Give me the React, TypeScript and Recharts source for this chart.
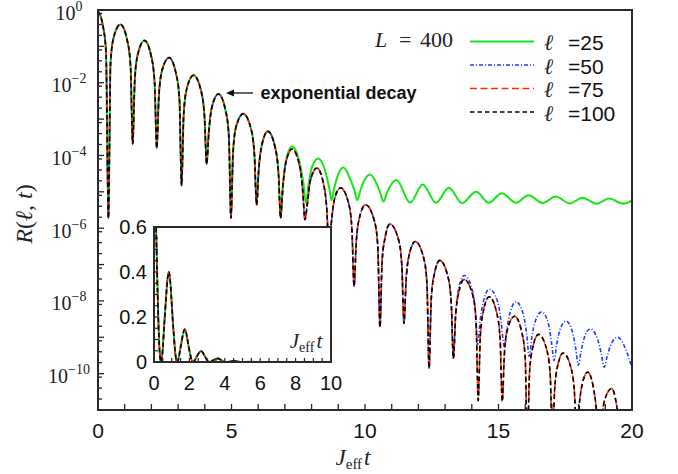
import { LineChart, Line, XAxis, YAxis } from 'recharts';

// R(l, t) as [J_eff t, R]; all four sizes coincide up to t ~ 6.8
const sharedDecay: [number, number][] = [
    [0, 0.93], [0.1, 0.66], [0.2, 0.32], [0.3, 0.071], [0.39, 1.9e-6],
    [0.47, 3.5e-2], [0.59, 0.18], [0.84, 0.40], [1.10, 0.14], [1.22, 0.028], [1.30, 2.1e-4],
    [1.38, 1.3e-2], [1.50, 6.5e-2], [1.74, 0.145], [2.00, 5.1e-2], [2.12, 1.0e-2], [2.20, 1.6e-4],
    [2.28, 4.4e-3], [2.40, 2.2e-2], [2.66, 4.9e-2], [2.93, 1.7e-2], [3.05, 3.5e-3], [3.13, 1.5e-5],
    [3.21, 1.4e-3], [3.33, 7.1e-3], [3.58, 1.6e-2], [3.87, 5.6e-3], [3.99, 1.1e-3], [4.07, 5.8e-5],
    [4.15, 4.4e-4], [4.27, 2.2e-3], [4.51, 4.9e-3], [4.78, 1.7e-3], [4.90, 3.5e-4], [4.98, 1.9e-6],
    [5.06, 1.3e-4], [5.18, 6.5e-4], [5.44, 1.4e-3], [5.74, 5.1e-4], [5.86, 1.0e-4], [5.94, 4.4e-6],
    [6.02, 4.1e-5], [6.14, 2.0e-4], [6.36, 4.6e-4], [6.64, 1.6e-4], [6.76, 3.2e-5], [6.84, 1.9e-6],
];

// l = 50, 75, 100 keep decaying together until t ~ 13.3
const decayTail: [number, number][] = [
    [6.92, 1.3e-5], [7.04, 6.6e-5], [7.27, 1.5e-4], [7.55, 5.2e-5], [7.67, 1.0e-5], [7.75, 1.7e-6],
    [7.83, 4.0e-6], [7.95, 2.0e-5], [8.20, 4.5e-5], [8.45, 1.6e-5], [8.57, 3.2e-6], [8.65, 2.5e-7],
    [8.73, 1.2e-6], [8.85, 5.9e-6], [9.08, 1.3e-5], [9.39, 4.7e-6], [9.51, 9.3e-7], [9.59, 2.5e-8],
    [9.67, 3.9e-7], [9.79, 1.9e-6], [10.02, 4.4e-6], [10.36, 1.5e-6], [10.48, 3.1e-7], [10.56, 1.9e-9],
    [10.64, 1.2e-7], [10.76, 5.9e-7], [10.93, 1.3e-6], [11.26, 4.7e-7], [11.38, 9.3e-8], [11.46, 2.4e-9],
    [11.54, 3.8e-8], [11.66, 1.9e-7], [11.88, 4.3e-7], [12.20, 1.5e-7], [12.32, 3.0e-8], [12.40, 1.4e-10],
    [12.48, 1.1e-8], [12.60, 5.6e-8], [12.80, 1.3e-7], [13.11, 4.5e-8], [13.23, 8.9e-9], [13.31, 2.6e-10],
];

// l = 75 and l = 100 overlap to the end
const lateTail: [number, number][] = [
    [13.39, 3.5e-9], [13.51, 1.7e-8], [13.71, 3.9e-8], [14.04, 1.4e-8], [14.16, 2.8e-9], [14.24, 1.8e-11],
    [14.32, 1.1e-9], [14.44, 5.6e-9], [14.65, 1.3e-8], [14.94, 4.5e-9], [15.06, 8.9e-10], [15.14, 1.7e-11],
    [15.22, 3.4e-10], [15.34, 1.7e-9], [15.60, 3.8e-9], [15.88, 1.3e-9], [16.00, 2.7e-10], [16.08, 1e-12],
    [16.16, 1.0e-10], [16.28, 5.2e-10], [16.50, 1.2e-9], [16.82, 4.2e-10], [16.94, 8.3e-11], [17.02, 1e-12],
    [17.10, 3.3e-11], [17.22, 1.7e-10], [17.42, 3.7e-10], [17.73, 1.3e-10], [17.85, 2.6e-11], [17.93, 1e-12],
    [18.01, 9.8e-12], [18.13, 4.9e-11], [18.34, 1.1e-10], [18.56, 3.9e-11], [18.68, 7.8e-12], [18.76, 1e-12],
    [18.84, 3.5e-12], [18.96, 1.7e-11], [19.24, 3.9e-11], [19.42, 1.4e-11], [19.54, 2.8e-12], [19.62, 3e-13],
    [20, 4e-12],
];

const blueTail: [number, number][] = [
    [13.39, 4.0e-9], [13.51, 2.2e-8], [13.72, 5.0e-8], [14.02, 2.0e-8], [14.12, 6.3e-9], [14.22, 6.3e-10],
    [14.32, 3.2e-9], [14.44, 1.0e-8], [14.66, 2.1e-8], [14.98, 8.9e-9], [15.10, 2.5e-9], [15.22, 5.4e-10],
    [15.32, 1.8e-9], [15.44, 5.0e-9], [15.66, 9.5e-9], [15.93, 4.2e-9], [16.05, 1.3e-9], [16.15, 3.0e-10],
    [16.25, 1.0e-9], [16.38, 2.8e-9], [16.62, 5.0e-9], [16.86, 2.5e-9], [16.98, 7.9e-10], [17.08, 2.3e-10],
    [17.18, 6.3e-10], [17.30, 1.6e-9], [17.53, 2.8e-9], [17.77, 1.4e-9], [17.89, 5.0e-10], [17.99, 1.7e-10],
    [18.09, 4.0e-10], [18.21, 9.5e-10], [18.43, 1.7e-9], [18.72, 8.5e-10], [18.85, 3.5e-10], [18.96, 1.5e-10],
    [19.06, 2.8e-10], [19.20, 6.0e-10], [19.46, 1.0e-9], [19.75, 5.0e-10], [20, 1.4e-10],
];

// l = 25 saturates around 5e-6
const greenTail: [number, number][] = [
    [6.92, 1.3e-5], [7.04, 7.1e-5], [7.27, 1.8e-4], [7.52, 7.9e-5], [7.68, 2.0e-5], [7.79, 5.0e-6],
    [7.90, 1.8e-5], [8.02, 5.0e-5], [8.25, 8.3e-5], [8.50, 4.0e-5], [8.65, 1.4e-5], [8.75, 5.9e-6],
    [8.86, 1.4e-5], [8.98, 2.8e-5], [9.19, 4.7e-5], [9.45, 2.2e-5], [9.60, 1.1e-5], [9.71, 5.9e-6],
    [9.83, 1.1e-5], [9.95, 1.9e-5], [10.19, 3.0e-5], [10.45, 1.6e-5], [10.58, 8.9e-6], [10.69, 5.4e-6],
    [10.81, 8.9e-6], [10.94, 1.4e-5], [11.18, 2.1e-5], [11.69, 5.0e-6], [12.16, 1.6e-5], [12.66, 5.0e-6],
    [13.14, 1.3e-5], [13.64, 4.9e-6], [14.16, 1.0e-5], [14.64, 5.0e-6], [15.12, 9.1e-6], [15.66, 5.0e-6],
    [16.12, 8.1e-6], [16.66, 4.9e-6], [17.14, 7.4e-6], [17.68, 4.8e-6], [18.14, 6.9e-6], [18.68, 4.7e-6],
    [19.14, 6.5e-6], [19.67, 4.7e-6], [20, 5.8e-6],
];

const xTicks = [0, 1, 2, 3, 4, 5, 6, 7, 8, 9, 10, 11, 12, 13, 14, 15, 16, 17, 18, 19, 20];
const xTickLabels = [0, 5, 10, 15, 20];
const yDecades = [1, 1e-1, 1e-2, 1e-3, 1e-4, 1e-5, 1e-6, 1e-7, 1e-8, 1e-9, 1e-10, 1e-11];
const yMinorFactors = [2, 4, 8];
const yLabelExponents = [0, -2, -4, -6, -8, -10];

const insetXTicks = [0, 0.5, 1, 1.5, 2, 2.5, 3, 3.5, 4, 4.5, 5, 5.5, 6, 6.5, 7, 7.5, 8, 8.5, 9, 9.5, 10];
const insetXLabels = [0, 2, 4, 6, 8, 10];
const insetYTicks = [0, 0.05, 0.1, 0.15, 0.2, 0.25, 0.3, 0.35, 0.4, 0.45, 0.5, 0.55, 0.6];
const insetYLabels = [0, 0.2, 0.4, 0.6];

const toRows = (pts: [number, number][]) => pts.map(([t, r]) => ({ t, r }));

const series = [
    { name: '25', color: '#14e614', dash: undefined, width: 2, data: toRows([...sharedDecay, ...greenTail]) },
    { name: '50', color: '#1a3cff', dash: '4 2 1 2', width: 1.6, data: toRows([...sharedDecay, ...decayTail, ...blueTail]) },
    { name: '75', color: '#ff2a00', dash: '7 3.5', width: 1.6, data: toRows([...sharedDecay, ...decayTail, ...lateTail]) },
    { name: '100', color: '#000000', dash: '4.5 3', width: 1.6, data: toRows([...sharedDecay, ...decayTail, ...lateTail]) },
];

const yTicks = yDecades
    .flatMap(d => [d, ...yMinorFactors.map(f => f * d)])
    .filter(v => v <= 1 && v >= 1e-11);

const SERIF = '"Liberation Serif", "DejaVu Serif", serif';
const SANS = '"Liberation Sans", Arial, sans-serif';
const INK = '#222';

// main plot box
const PLOT_LEFT = 98;
const PLOT_BOTTOM = 410;

// inset plot box, in the inset chart's own coordinates
const IN_LEFT = 54;
const IN_BOTTOM = 150;

const MainXTick = (props: any) => {
    const { x, payload } = props;
    return (
        <g>
            <line x1={x} x2={x} y1={PLOT_BOTTOM} y2={PLOT_BOTTOM - 6} stroke={INK} strokeWidth={1.3} />
            {xTickLabels.includes(payload.value) && (
                <text x={x} y={438} textAnchor="middle" fontFamily={SANS} fontSize={21} fill="#111">
                    {payload.value}
                </text>
            )}
        </g>
    );
};

const MainYTick = (props: any) => {
    const { y, payload } = props;
    const lg = Math.log10(payload.value);
    const e = Math.round(lg);
    const isDecade = Math.abs(lg - e) < 1e-6;
    const labelled = isDecade && yLabelExponents.includes(e);
    return (
        <g>
            <line x1={PLOT_LEFT - 1} x2={PLOT_LEFT + (isDecade ? 6 : 4)} y1={y} y2={y} stroke={INK} strokeWidth={1.3} />
            {labelled && (
                <text x={69} y={y + 9.5} textAnchor="middle" fontFamily={SERIF} fontSize={20} fill="#222">
                    10<tspan dy={-9} fontSize={14}>{e === 0 ? '0' : '\u2212' + -e}</tspan>
                </text>
            )}
        </g>
    );
};

const InsetXTick = (props: any) => {
    const { x, payload } = props;
    return (
        <g>
            <line x1={x} x2={x} y1={IN_BOTTOM} y2={IN_BOTTOM - 4} stroke={INK} strokeWidth={1.2} />
            {insetXLabels.includes(payload.value) && (
                <text x={x} y={178} textAnchor="middle" fontFamily={SANS} fontSize={20} fill="#111">
                    {payload.value}
                </text>
            )}
        </g>
    );
};

const InsetYTick = (props: any) => {
    const { y, payload } = props;
    const labelled = insetYLabels.some(v => Math.abs(v - payload.value) < 1e-9);
    return (
        <g>
            <line x1={IN_LEFT} x2={IN_LEFT + 4} y1={y} y2={y} stroke={INK} strokeWidth={1.2} />
            {labelled && (
                <text x={47} y={y + 7} textAnchor="end" fontFamily={SANS} fontSize={20} fill="#111">
                    {payload.value}
                </text>
            )}
        </g>
    );
};

const legendRows = [41.5, 65, 88.5, 112];

export default function App() {
    return (
        <div style={{ position: 'absolute', left: 0, top: 0, width: 678, height: 474, background: '#fff' }}>
            <div style={{ position: 'absolute', left: 0, top: 0 }}>
                <LineChart width={678} height={474} margin={{ top: 10, right: 46, bottom: 24, left: 8 }}>
                    <XAxis
                        dataKey="t"
                        type="number"
                        domain={[0, 20]}
                        ticks={xTicks}
                        interval={0}
                        allowDataOverflow
                        height={40}
                        axisLine={false}
                        tickLine={false}
                        tick={<MainXTick />}
                    />
                    <YAxis
                        scale="log"
                        domain={[1e-11, 1]}
                        ticks={yTicks}
                        interval={0}
                        allowDataOverflow
                        width={90}
                        axisLine={false}
                        tickLine={false}
                        tick={<MainYTick />}
                    />
                    {series.map(s => (
                        <Line
                            key={s.name}
                            data={s.data}
                            dataKey="r"
                            type="monotone"
                            stroke={s.color}
                            strokeWidth={s.width}
                            strokeDasharray={s.dash}
                            dot={false}
                            activeDot={false}
                            isAnimationActive={false}
                        />
                    ))}
                </LineChart>
            </div>

            {/* main frame */}
            <div style={{
                position: 'absolute', left: 97, top: 9, width: 536, height: 402,
                border: '2px solid #2a2a2a', boxSizing: 'border-box', pointerEvents: 'none'
            }} />

            {/* inset */}
            <div style={{ position: 'absolute', left: 154, top: 227, width: 177, height: 135, background: '#fff' }} />
            <div style={{ position: 'absolute', left: 100, top: 212 }}>
                <LineChart width={250} height={190} margin={{ top: 15, right: 19, bottom: 10, left: 14 }}>
                    <XAxis
                        dataKey="t"
                        type="number"
                        domain={[0, 10]}
                        ticks={insetXTicks}
                        interval={0}
                        allowDataOverflow
                        height={30}
                        axisLine={false}
                        tickLine={false}
                        tick={<InsetXTick />}
                    />
                    <YAxis
                        domain={[0, 0.6]}
                        ticks={insetYTicks}
                        interval={0}
                        allowDataOverflow
                        width={40}
                        axisLine={false}
                        tickLine={false}
                        tick={<InsetYTick />}
                    />
                    {series.map(s => (
                        <Line
                            key={s.name}
                            data={s.data}
                            dataKey="r"
                            type="monotone"
                            stroke={s.color}
                            strokeWidth={s.width}
                            strokeDasharray={s.dash}
                            dot={false}
                            activeDot={false}
                            isAnimationActive={false}
                        />
                    ))}
                </LineChart>
            </div>
            <div style={{
                position: 'absolute', left: 153, top: 226, width: 179, height: 137,
                border: '2px solid #2a2a2a', boxSizing: 'border-box', pointerEvents: 'none'
            }} />

            {/* labels, legend and annotation */}
            <svg width={678} height={474} style={{ position: 'absolute', left: 0, top: 0, pointerEvents: 'none' }}>
                <g transform="translate(32,214) rotate(-90)">
                    <text x={0} y={0} textAnchor="middle" fontFamily={SERIF} fontSize={24} fill="#222">
                        <tspan fontStyle="italic">R</tspan>(<tspan fontStyle="italic">ℓ</tspan>, <tspan fontStyle="italic">t</tspan>)
                    </text>
                </g>
                <text x={353} y={465} textAnchor="middle" fontFamily={SERIF} fontSize={23} fill="#222">
                    <tspan fontStyle="italic">J</tspan>
                    <tspan fontSize={15} dy={4}>eff</tspan>
                    <tspan fontStyle="italic" dy={-4} dx={2}>t</tspan>
                </text>
                <text x={306} y={348} textAnchor="middle" fontFamily={SERIF} fontSize={21} fill="#222">
                    <tspan fontStyle="italic">J</tspan>
                    <tspan fontSize={14} dy={4}>eff</tspan>
                    <tspan fontStyle="italic" dy={-4} dx={2}>t</tspan>
                </text>

                <text y={47} fontFamily={SERIF} fontSize={22} fill="#222">
                    <tspan x={375} fontStyle="italic">L</tspan>
                    <tspan x={399}>=</tspan>
                    <tspan x={420}>400</tspan>
                </text>

                {series.map((s, i) => (
                    <g key={s.name}>
                        <line x1={470} x2={534} y1={legendRows[i]} y2={legendRows[i]}
                              stroke={s.color} strokeWidth={s.width} strokeDasharray={s.dash} />
                        <text x={544} y={legendRows[i] + 8.5} fontFamily={SERIF} fontStyle="italic" fontSize={22} fill="#222">ℓ</text>
                        <text x={568} y={legendRows[i] + 8.5} fontFamily={SANS} fontSize={21} fill="#111">={s.name}</text>
                    </g>
                ))}

                <line x1={253} x2={232} y1={93} y2={93} stroke="#111" strokeWidth={1.3} />
                <polygon points="226,93 234,89.5 234,96.5" fill="#111" />
                <text x={260.5} y={99} fontFamily={SANS} fontWeight="bold" fontSize={18} fill="#111">
                    exponential decay
                </text>
            </svg>
        </div>
    );
}
